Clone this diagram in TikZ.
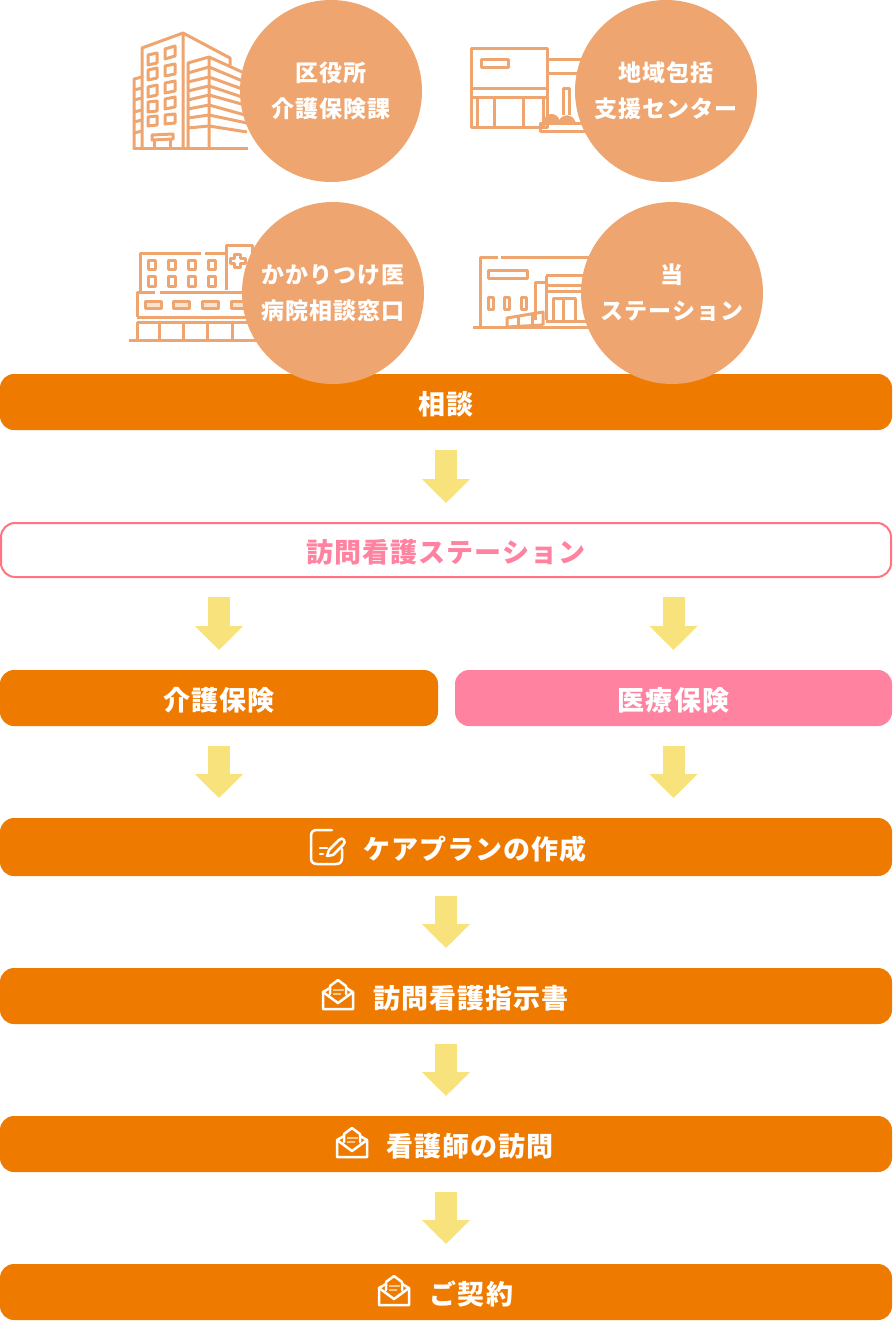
\documentclass[tikz,border=0pt]{standalone}
\usepackage{fontspec}
\usetikzlibrary{arrows.meta,shapes.geometric}
\newfontfamily\jpfont[LetterSpace=4]{Noto Sans CJK JP}
\definecolor{barorange}{HTML}{EF7A00}
\definecolor{barpink}{HTML}{FF83A0}
\definecolor{edgepink}{HTML}{FF7480}
\definecolor{peach}{HTML}{EEA56F}
\definecolor{palepeach}{HTML}{FBE3CF}
\definecolor{iconpeach}{HTML}{F8C78E}
\definecolor{flowyellow}{HTML}{F8E27C}
\tikzset{
  bar/.style={rectangle, rounded corners=14pt, inner sep=0pt, outer sep=0pt, minimum height=56pt,
    fill=barorange, text=white, text height=24pt, text depth=0pt,
    font=\jpfont\bfseries\fontsize{27}{30}\selectfont},
  bartext/.style={inner sep=0pt, text=white, font=\jpfont\bfseries\fontsize{27}{30}\selectfont},
  place/.style={circle, inner sep=0pt, outer sep=0pt, minimum size=182pt, fill=peach, text=white,
    align=center, font=\jpfont\bfseries\fontsize{23}{36}\selectfont},
  flow/.style={line width=22pt, draw=flowyellow, shorten <=20pt, shorten >=20pt,
    -{Triangle[width=47pt,length=24pt,fill=flowyellow]}},
  bldg/.style={draw=peach, line width=3pt, line join=round},
  icon/.style={draw=white, line width=2.5pt, line join=round, line cap=round},
  iconpale/.style={draw=iconpeach, line width=1.5pt}
}
\begin{document}
\begin{tikzpicture}[x=1pt,y=-1pt]
   \useasboundingbox (0,0) rectangle (892,1321);
   % office tower
   \begin{scope}
    \draw[bldg] (133,149) -- (248,149);
    \draw[bldg] (142,149) -- (142,48) -- (183,33) -- (183,149);
    \draw[bldg] (183,33) -- (230,58) -- (230,65);
    \draw[bldg] (142,77) -- (134,79) -- (134,149);
    \draw[bldg] (134,90) -- (142,88) (134,100) -- (142,98) (134,112) -- (142,110) (134,122) -- (142,120) (134,133) -- (142,131);
    \draw[bldg] (188,149) -- (188,63) -- (209,57) -- (209,149);
    \draw[bldg] (209,57) -- (242,72);
    \draw[bldg] (188,73) -- (209,67) -- (245,82);
    \draw[bldg] (188,82) -- (209,77) -- (245,90);
    \draw[bldg] (188,91) -- (209,86) -- (245,98);
    \draw[bldg] (188,100) -- (209,95) -- (245,105);
    \draw[bldg] (188,109) -- (209,105) -- (245,115);
    \draw[bldg] (188,118) -- (209,115) -- (247,123);
    \draw[bldg] (188,128) -- (209,126) -- (247,132);
    \draw[bldg] (148,55) -- (157,53) -- (157,63) -- (148,65) -- cycle (165,49) -- (175,46) -- (175,56) -- (165,59) -- cycle;
    \draw[bldg] (148,70) -- (157,68) -- (157,78) -- (148,80) -- cycle (165,66) -- (175,64) -- (175,74) -- (165,76) -- cycle;
    \draw[bldg] (148,87) -- (157,85) -- (157,95) -- (148,97) -- cycle (165,83) -- (175,81) -- (175,91) -- (165,93) -- cycle;
    \draw[bldg] (148,102) -- (157,101) -- (157,111) -- (148,112) -- cycle (165,99) -- (175,97) -- (175,107) -- (165,109) -- cycle;
    \draw[bldg] (148,117) -- (157,116) -- (157,125) -- (148,126) -- cycle (165,115) -- (175,114) -- (175,123) -- (165,124) -- cycle;
    \draw[bldg] (152,135) -- (173,134) -- (173,139) -- (152,140) -- cycle;
    \draw[bldg] (154,140) -- (154,149) (170,140) -- (170,149);
   \end{scope}
   % care centre
   \begin{scope}
    \draw[bldg] (471,49) rectangle (547,128);
    \draw[bldg] (481,60) rectangle (508,68);
    \draw[bldg] (471,89) -- (547,89) (471,98) -- (547,98);
    \draw[bldg] (477,98) -- (477,128) (494,98) -- (494,128) (523,98) -- (523,128) (543,98) -- (543,128);
    \draw[bldg] (547,60) -- (585,60) (547,74) -- (585,74);
    \draw[bldg] (563,115) -- (563,89) -- (569,89) -- (569,115);
    \draw[bldg] (540,124) rectangle (590,132);
    \draw[bldg,fill=peach] (544,124) .. controls (546,113) and (556,113) .. (559,122) -- cycle;
    \draw[bldg,fill=peach] (560,122) .. controls (563,115) and (571,115) .. (574,122) -- cycle;
   \end{scope}
   % clinic
   \begin{scope}
    \draw[bldg] (140,292) -- (140,254) -- (201,254) (205,254) -- (226,254);
    \draw[bldg] (226,290) -- (226,246) -- (252,246) -- (252,260);
    \draw[bldg] (234,255) -- (240,255) -- (240,259) -- (245,259) -- (245,264) -- (240,264) -- (240,268) -- (234,268) -- (234,264) -- (230,264) -- (230,259) -- (234,259) -- cycle;
    \draw[bldg] (148,261) rectangle (155,270) (168,261) rectangle (175,270) (188,261) rectangle (195,270) (208,261) rectangle (215,270);
    \draw[bldg] (148,277) rectangle (155,287) (168,277) rectangle (175,287) (188,277) rectangle (195,287) (208,277) rectangle (215,287);
    \draw[bldg] (137,317) -- (137,293) -- (155,293) (160,293) -- (260,293);
    \draw[bldg] (137,317) -- (260,317) (137,322) -- (260,322);
    \draw[bldg] (129,340) -- (260,340);
    \draw[bldg] (137,322) -- (137,340) (159,322) -- (159,340) (183,322) -- (183,340) (207,322) -- (207,340) (232,322) -- (232,340);
    \draw[bldg,fill=palepeach] (145,302) rectangle (161,308) (173,302) rectangle (189,308) (202,302) rectangle (218,308) (231,302) rectangle (247,308);
   \end{scope}
   % station
   \begin{scope}
    \draw[bldg] (473,327) -- (590,327);
    \draw[bldg] (480,327) -- (480,258) -- (498,258) (501,258) -- (590,258);
    \draw[bldg] (488,271) rectangle (527,279);
    \draw[bldg] (488,298) rectangle (493,309) (504,298) rectangle (509,309) (521,298) rectangle (526,309);
    \draw[bldg] (535,320) -- (535,283) -- (546,283);
    \draw[bldg] (546,276) -- (590,276) (546,286) -- (590,286) (546,276) -- (546,320);
    \draw[bldg] (546,292) -- (590,292);
    \draw[bldg] (553,320) -- (553,299) -- (575,299) -- (575,320) (563,299) -- (563,320);
    \draw[bldg] (546,321) -- (590,321);
    \draw[bldg] (507,327) -- (507,318) -- (543,312) -- (543,325) (507,327) -- (543,325);
    \draw[bldg] (518,316) -- (518,326) (532,314) -- (532,325);
   \end{scope}
   % bars
   \node[bar, minimum width=892pt] (consult) at (446,402) {相談};
   \node[bar, minimum width=890pt, minimum height=54pt, fill=white, draw=edgepink, line width=2pt, text=barpink] (station) at (446,550) {訪問看護ステーション};
   \node[bar, minimum width=438pt] (kaigo) at (219,698) {介護保険};
   \node[bar, minimum width=437pt, fill=barpink] (iryo) at (673.5,698) {医療保険};
   \node[bar, minimum width=892pt, minimum height=58pt] (careplan) at (446,847) {};
   \node[bar, minimum width=892pt] (order) at (446,996) {};
   \node[bar, minimum width=892pt] (visit) at (446,1144) {};
   \node[bar, minimum width=892pt] (contract) at (446,1292) {};
   \node[bartext] (careplantext) at (475,849) {ケアプランの作成};
   \node[bartext] (ordertext) at (471,998) {訪問看護指示書};
   \node[bartext] (visittext) at (470,1146) {看護師の訪問};
   \node[bartext] (contracttext) at (471.5,1294) {ご契約};
   % places
   \node[place] (ward) at (331,91) {区役所\\介護保険課};
   \node[place] (center) at (666,91) {地域包括\\支援センター};
   \node[place] (doctor) at (333,293) {かかりつけ医\\病院相談窓口};
   \node[place] (ours) at (672,293) {当\\ステーション};
   % flow
   \draw[flow] (consult) -- (station);
   \draw[flow] (station.south -| kaigo) -- (kaigo);
   \draw[flow] (station.south -| iryo) -- (iryo);
   \draw[flow] (kaigo) -- (careplan.north -| kaigo);
   \draw[flow] (iryo) -- (careplan.north -| iryo);
   \draw[flow] (careplan) -- (order);
   \draw[flow] (order) -- (visit);
   \draw[flow] (visit) -- (contract);
   % note icon
   \begin{scope}[shift={(310,829)}]
    \draw[icon] (22,1) -- (7,1) .. controls (3,1) and (1,3) .. (1,7) -- (1,29) .. controls (1,33) and (3,35) .. (7,35) -- (26,35) .. controls (30,35) and (32,33) .. (32,29) -- (32,20);
    \draw[icon] (10,19) -- (17,19) (10,25) -- (13,25);
    \draw[icon] (17,27) -- (19,21) -- (29,11) .. controls (31,9) and (33,9) .. (34,11) .. controls (35,13) and (35,14) .. (33,16) -- (23,26) -- cycle;
   \end{scope}
   % envelopes
   \begin{scope}[shift={(323,980)}]
    \draw[icon] (7,8) -- (0,12) -- (0,29) -- (30,29) -- (30,12) -- (23,8);
    \draw[icon] (0,12) -- (15,23) -- (30,12);
    \draw[icon] (7,14) -- (7,6) -- (15,0) -- (23,6) -- (23,14);
    \draw[iconpale] (10,10) -- (21,10) (10,14) -- (18,14);
   \end{scope}
   \begin{scope}[shift={(337,1128)}]
    \draw[icon] (7,8) -- (0,12) -- (0,29) -- (30,29) -- (30,12) -- (23,8);
    \draw[icon] (0,12) -- (15,23) -- (30,12);
    \draw[icon] (7,14) -- (7,6) -- (15,0) -- (23,6) -- (23,14);
    \draw[iconpale] (10,10) -- (21,10) (10,14) -- (18,14);
   \end{scope}
   \begin{scope}[shift={(379,1276)}]
    \draw[icon] (7,8) -- (0,12) -- (0,29) -- (30,29) -- (30,12) -- (23,8);
    \draw[icon] (0,12) -- (15,23) -- (30,12);
    \draw[icon] (7,14) -- (7,6) -- (15,0) -- (23,6) -- (23,14);
    \draw[iconpale] (10,10) -- (21,10) (10,14) -- (18,14);
   \end{scope}
  \end{tikzpicture}
\end{document}
